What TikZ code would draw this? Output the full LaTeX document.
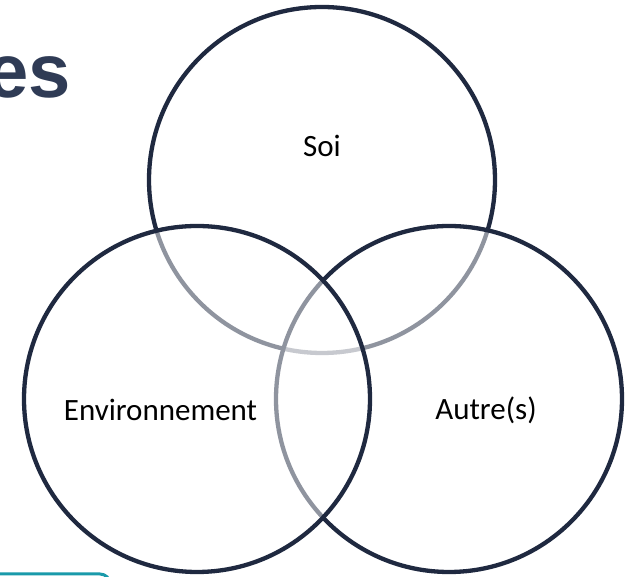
\documentclass[tikz,border=0pt]{standalone}
\usepackage{fontspec}
\setmainfont{Carlito}
\newfontfamily\titlefont{Liberation Sans}
\usepackage{tikz}
\usetikzlibrary{calc}

\definecolor{navy}{HTML}{1F2940}
\definecolor{slate}{HTML}{2F3B55}
\definecolor{tealbar}{HTML}{1A9AAA}

\begin{document}
\begin{tikzpicture}[x=1pt, y=1pt]
      \useasboundingbox (0,0) rectangle (630,577);

      % title end and the bar below
      \node [inner sep=0, outer sep=0, anchor=base east, text=slate] (title) at (71,479) {\titlefont\fontsize{76}{80}\selectfont\bfseries es};
      \draw [tealbar, line width=3pt, rounded corners=10pt, fill=white] (-20,-30) rectangle (110,3);

      \node [inner sep=0, outer sep=0] (soi) at (322,397) {};
      \node [inner sep=0, outer sep=0] (aut) at (449,178) {};
      \node [inner sep=0, outer sep=0] (env) at (197,178) {};

      % white see-through fills grey the lines behind
      \filldraw [fill=white, fill opacity=0.5, draw=navy, line width=4.3pt] (soi) circle (173);
      \filldraw [fill=white, fill opacity=0.5, draw=navy, line width=4.3pt] (aut) circle (173);
      \filldraw [fill=white, fill opacity=0.5, draw=navy, line width=4.3pt] (env) circle (173);

      \node [anchor=base, font=\fontsize{31}{33}\selectfont] (lsoi) at (322,420) {Soi};
      \node [anchor=base, font=\fontsize{31}{33}\selectfont] (lenv) at (160.5,156) {Environnement};
      \node [anchor=base, font=\fontsize{31}{33}\selectfont] (laut) at (486,157) {Autre(s)};
\end{tikzpicture}
\end{document}
